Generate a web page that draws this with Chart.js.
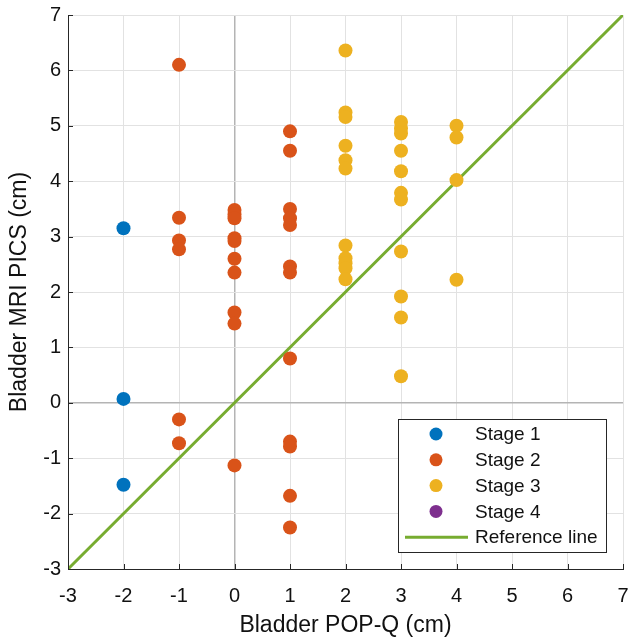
<!DOCTYPE html>
<html><head><meta charset="utf-8">
<script src="https://cdn.jsdelivr.net/npm/chart.js@4.4.1/dist/chart.umd.min.js"></script>
<style>html,body{margin:0;padding:0;background:#fff}canvas{display:block}</style>
</head><body>
<canvas id="c" width="630" height="640"></canvas>
<script>
// ---- data ----
const seriesLabels = ['Stage 1', 'Stage 2', 'Stage 3', 'Stage 4', 'Reference line'];
const stage1X = [-2, -2, -2];
const stage1Y = [3.15, 0.07, -1.48];
const stage2X = [-1, -1, -1, -1, -1, -1,
                 0, 0, 0, 0, 0, 0, 0, 0, 0, 0,
                 1, 1, 1, 1, 1, 1, 1, 1, 1, 1, 1, 1];
const stage2Y = [6.1, 3.34, 2.93, 2.77, -0.30, -0.73,
                 3.48, 3.40, 3.33, 2.97, 2.92, 2.60, 2.35, 1.63, 1.43, -1.13,
                 4.90, 4.55, 3.50, 3.33, 3.21, 2.46, 2.35, 0.80, -0.70, -0.79, -1.68, -2.25];
const stage3X = [2, 2, 2, 2, 2, 2, 2, 2, 2, 2, 2,
                 3, 3, 3, 3, 3, 3, 3, 3, 3, 3, 3,
                 4, 4, 4, 4];
const stage3Y = [6.36, 5.24, 5.16, 4.64, 4.38, 4.23, 2.84, 2.61, 2.52, 2.43, 2.23,
                 5.07, 4.95, 4.86, 4.55, 4.18, 3.79, 3.67, 2.73, 1.92, 1.54, 0.48,
                 5.00, 4.79, 4.02, 2.22];
const stage4X = [];
const stage4Y = [];
const refX = [-3, 7];
const refY = [-3, 7];
const xTicks = [-3, -2, -1, 0, 1, 2, 3, 4, 5, 6, 7];
const yTicks = [-3, -2, -1, 0, 1, 2, 3, 4, 5, 6, 7];
const axisTitles = ['Bladder POP-Q (cm)', 'Bladder MRI PICS (cm)'];

const colors = ['#0072BD', '#D95319', '#EDB120', '#7E2F8E', '#77AC30'];
const FONT = '"Liberation Sans", Arial, Helvetica, sans-serif';
const zip = (xs, ys) => xs.map((x, i) => ({x: x, y: ys[i]}));

const pts = [[stage1X, stage1Y], [stage2X, stage2Y], [stage3X, stage3Y], [stage4X, stage4Y]];
const datasets = pts.map((p, i) => ({
  type: 'scatter',
  label: seriesLabels[i],
  data: zip(p[0], p[1]),
  backgroundColor: colors[i],
  borderColor: colors[i],
  borderWidth: 0,
  pointRadius: 7,
  pointHoverRadius: 7
}));
datasets.push({
  type: 'line',
  label: seriesLabels[4],
  data: zip(refX, refY),
  borderColor: colors[4],
  backgroundColor: colors[4],
  borderWidth: 3,
  pointRadius: 0,
  fill: false
});

const inwardTicks = {
  id: 'inwardTicks',
  afterDatasetsDraw(chart) {
    const ctx = chart.ctx, a = chart.chartArea;
    const xs = chart.scales.x, ys = chart.scales.y;
    ctx.save();
    ctx.strokeStyle = '#262626';
    ctx.lineWidth = 1;
    ctx.beginPath();
    xTicks.forEach(v => {
      const px = Math.round(xs.getPixelForValue(v)) + 0.5;
      ctx.moveTo(px, a.bottom); ctx.lineTo(px, a.bottom - 5);
    });
    yTicks.forEach(v => {
      const py = Math.round(ys.getPixelForValue(v)) + 0.5;
      ctx.moveTo(a.left, py); ctx.lineTo(a.left + 5, py);
    });
    ctx.stroke();
    ctx.restore();
  }
};

const boxLegend = {
  id: 'boxLegend',
  afterDraw(chart) {
    const ctx = chart.ctx, a = chart.chartArea;
    const w = 208, h = 133;
    const right = a.right - 17, bottom = a.bottom - 17;
    const left = right - w, top = bottom - h;
    ctx.save();
    ctx.fillStyle = '#fff';
    ctx.fillRect(left, top, w, h);
    ctx.strokeStyle = '#262626';
    ctx.lineWidth = 1;
    ctx.strokeRect(Math.round(left) + 0.5, Math.round(top) + 0.5, w, h);
    ctx.font = '19px ' + FONT;
    ctx.textBaseline = 'middle';
    ctx.textAlign = 'left';
    chart.data.datasets.forEach((ds, i) => {
      const cy = top + 15 + i * 25.8;
      if (ds.type === 'line') {
        ctx.strokeStyle = ds.borderColor;
        ctx.lineWidth = 3;
        ctx.beginPath();
        ctx.moveTo(left + 7, cy); ctx.lineTo(left + 70, cy);
        ctx.stroke();
      } else {
        ctx.fillStyle = ds.backgroundColor;
        ctx.beginPath();
        ctx.arc(left + 38, cy, 6.5, 0, Math.PI * 2);
        ctx.fill();
      }
      ctx.fillStyle = '#111';
      ctx.fillText(ds.label, left + 77, cy + 1);
    });
    ctx.restore();
  }
};

const gridColor = c => (c.tick && c.tick.value === 0) ? '#b4b4b4' : '#e2e2e2';
const gridWidth = c => (c.tick && c.tick.value === 0) ? 1.5 : 1;

new Chart(document.getElementById('c'), {
  data: {datasets: datasets},
  options: {
    responsive: false,
    animation: false,
    devicePixelRatio: 1,
    layout: {padding: {top: 15, right: 7, left: 0, bottom: 0}},
    plugins: {legend: {display: false}, tooltip: {enabled: false}},
    scales: {
      x: {
        type: 'linear', position: 'bottom', min: -3, max: 7,
        afterBuildTicks: s => { s.ticks = xTicks.map(v => ({value: v})); },
        afterFit: s => { s.height = 71; s.paddingLeft = 0; s.paddingRight = 0; },
        grid: {color: gridColor, lineWidth: gridWidth, drawTicks: false},
        border: {display: true, color: '#262626', width: 1},
        ticks: {padding: 15, color: '#111', font: {family: FONT, size: 20}, maxRotation: 0},
        title: {display: true, text: axisTitles[0], color: '#111', font: {family: FONT, size: 23}, padding: {top: 0, bottom: 1}}
      },
      y: {
        type: 'linear', position: 'left', min: -3, max: 7,
        afterBuildTicks: s => { s.ticks = yTicks.map(v => ({value: v})); },
        afterFit: s => { s.width = 68; s.paddingTop = 0; s.paddingBottom = 0; },
        grid: {color: gridColor, lineWidth: gridWidth, drawTicks: false},
        border: {display: true, color: '#262626', width: 1},
        ticks: {padding: 7, color: '#111', font: {family: FONT, size: 20}},
        title: {display: true, text: axisTitles[1], color: '#111', font: {family: FONT, size: 23}, padding: {top: 6, bottom: 0}}
      }
    }
  },
  plugins: [inwardTicks, boxLegend]
});
</script>
</body></html>
